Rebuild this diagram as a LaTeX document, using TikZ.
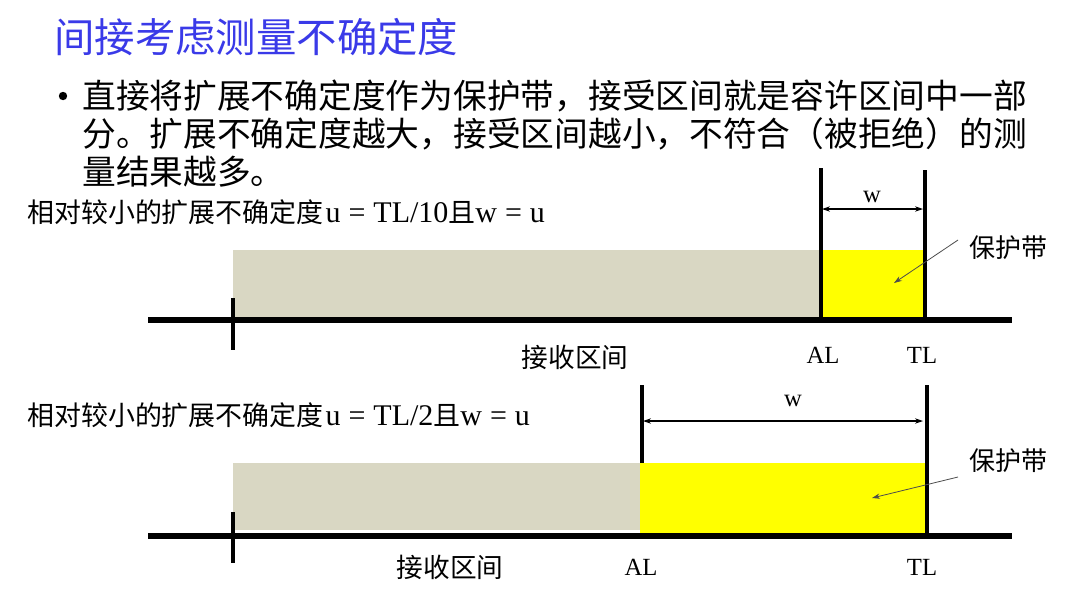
\documentclass[tikz,border=0pt]{standalone}
\usepackage{fontspec}
\setmainfont{Liberation Serif}
\newfontfamily\cjk{Noto Sans CJK SC}
\newfontfamily\lserif{Liberation Serif}
\usetikzlibrary{arrows.meta}
\definecolor{titleblue}{RGB}{58,58,232}
\definecolor{accgray}{RGB}{217,215,195}
\definecolor{guardyellow}{RGB}{255,255,0}
\newcommand{\capcjk}[1]{{\cjk\fontsize{20.2}{22}\selectfont #1}}
\newcommand{\capeq}{\hspace{6pt}=\hspace{6pt}}
\tikzset{
  axisline/.style={line width=4pt},
  tickline/.style={line width=2.3pt},
  limline/.style={line width=2.5pt},
  dimarrow/.style={line width=0.8pt,{Stealth[length=6pt,width=4pt]}-{Stealth[length=6pt,width=4pt]}},
  pointer/.style={line width=0.6pt,draw=black!70,-{Stealth[length=6pt,width=4pt]}},
  captext/.style={inner sep=0pt,anchor=west,font=\lserif\fontsize{22.5}{24}\selectfont},
  cjklbl/.style={inner sep=0pt,font=\cjk\fontsize{19.5}{22}\selectfont},
  lat/.style={inner sep=0pt,font=\lserif\fontsize{18.5}{20}\selectfont},
  body/.style={anchor=west,inner sep=0pt,font=\cjk\fontsize{25.3}{30}\selectfont},
}
\begin{document}
\begin{tikzpicture}[x=0.75pt,y=-0.75pt]
\useasboundingbox (0,0) rectangle (1080,608);
% title
\node[anchor=west,inner sep=0pt,text=titleblue,font=\cjk\fontsize{30.3}{34}\selectfont] (title) at (54,37) {间接考虑测量不确定度};
% bullet
\fill (63,96) circle[radius=4.2];
\node[body] (l1) at (82,96) {直接将扩展不确定度作为保护带，接受区间就是容许区间中一部};
\node[body] (l2) at (82,134) {分。扩展不确定度越大，接受区间越小，不符合（被拒绝）的测};
\node[body] (l3) at (82,172) {量结果越多。};

% ---------- diagram 1 ----------
\node[captext] (cap1) at (27,212) {\capcjk{相对较小的扩展不确定度}\hspace{1.5pt}u\capeq TL/10\capcjk{且}w\capeq u};
\fill[accgray] (233,250) rectangle (820,320);
\fill[guardyellow] (820,250) rectangle (925,320);
\coordinate (a1L) at (148,320); \coordinate (a1R) at (1012,320);
\draw[axisline] (a1L) -- (a1R);
\coordinate (t1a) at (233,298); \coordinate (t1b) at (233,350);
\draw[tickline] (t1a) -- (t1b);
\coordinate (al1t) at (821,168); \coordinate (al1b) at (821,321);
\coordinate (tl1t) at (925,170); \coordinate (tl1b) at (925,321);
\draw[limline] (al1t) -- (al1b);
\draw[limline] (tl1t) -- (tl1b);
\coordinate (w1a) at (822,209); \coordinate (w1b) at (923,209);
\draw[dimarrow] (w1a) -- (w1b);
\node[lat] (w1) at (872,197) {w};
\node[cjklbl] (gb1) at (1008,248) {保护带};
\coordinate (p1s) at (958,240); \coordinate (p1e) at (894,283);
\draw[pointer] (p1s) -- (p1e);
\node[cjklbl,font=\cjk\fontsize{20}{22}\selectfont] (acc1) at (575,357) {接收区间};
\node[lat] (AL1) at (823,355) {AL};
\node[lat] (TL1) at (922,355) {TL};

% ---------- diagram 2 ----------
\node[captext] (cap2) at (27,415) {\capcjk{相对较小的扩展不确定度}\hspace{1.5pt}u\capeq TL/2\capcjk{且}w\capeq u};
\fill[accgray] (233,463) rectangle (640,530);
\fill[guardyellow] (640,463) rectangle (926,536);
\coordinate (a2L) at (148,536); \coordinate (a2R) at (1012,536);
\draw[axisline] (a2L) -- (a2R);
\coordinate (t2a) at (233,512); \coordinate (t2b) at (233,563);
\draw[tickline] (t2a) -- (t2b);
\coordinate (al2t) at (642,385); \coordinate (al2b) at (642,463);
\coordinate (tl2t) at (927,385); \coordinate (tl2b) at (927,537);
\draw[limline] (al2t) -- (al2b);
\draw[limline] (tl2t) -- (tl2b);
\coordinate (w2a) at (643,421); \coordinate (w2b) at (923,421);
\draw[dimarrow] (w2a) -- (w2b);
\node[lat] (w2) at (793,401) {w};
\node[cjklbl] (gb2) at (1008,461) {保护带};
\coordinate (p2s) at (958,477); \coordinate (p2e) at (872,498);
\draw[pointer] (p2s) -- (p2e);
\node[cjklbl,font=\cjk\fontsize{20}{22}\selectfont] (acc2) at (450,567) {接收区间};
\node[lat] (AL2) at (641,567) {AL};
\node[lat] (TL2) at (922,567) {TL};
\end{tikzpicture}
\end{document}
